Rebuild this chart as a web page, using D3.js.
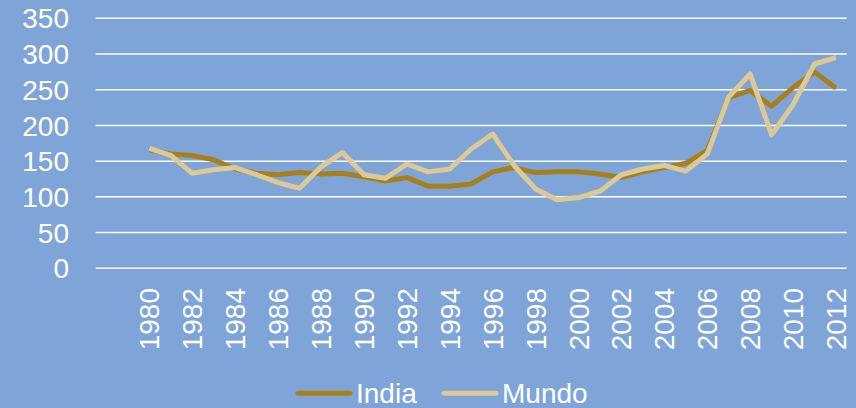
<!DOCTYPE html>
<html>
<head>
<meta charset="utf-8">
<script src="https://cdn.jsdelivr.net/npm/d3@7"></script>
<style>
html,body{margin:0;padding:0;background:#7FA5D8;}
svg{display:block;}
text{font-family:"Liberation Sans",Arial,sans-serif;fill:#fff;}
</style>
</head>
<body>
<svg id="chart" width="856" height="408"></svg>
<script>
const years = d3.range(1980, 2013);
const india = [166,160,158,152,139,133,131,134,132,133,128,122,127,115,115,118,135,141,134,135,135,132,127,135,141,147,165,239,249,227,253,275,252];
const mundo = [168,158,133,138,141,131,120,112,142,162,131,126,146,135,139,167,188,144,111,96,99,108,131,139,144,136,160,240,272,187,229,286,295];
const yTicks = [0,50,100,150,200,250,300,350];
const xTickLabels = d3.range(1980, 2013, 2);
const seriesNames = ["India","Mundo"];
const colors = {India:"#A88019", Mundo:"#DDC996"};

const svg = d3.select("#chart");
const x = d3.scaleLinear().domain([1977.5, 2012.5]).range([95.7, 846.7]);
const y = d3.scaleLinear().domain([0, 350]).range([268.3, 18.3]);

// gridlines
svg.append("g").selectAll("line").data(yTicks).join("line")
  .attr("x1", x(1977.5)).attr("x2", x(2012.5))
  .attr("y1", d => y(d)).attr("y2", d => y(d))
  .attr("stroke", "#fff").attr("stroke-width", 1.5);

// y labels
svg.append("g").selectAll("text").data(yTicks).join("text")
  .attr("x", 69).attr("y", d => y(d)).attr("dy", "0.36em")
  .attr("text-anchor", "end").attr("font-size", 28)
  .text(d => d);

// x labels
svg.append("g").selectAll("text").data(xTickLabels).join("text")
  .attr("transform", d => `translate(${x(d)},288) rotate(-90)`)
  .attr("dy", "0.36em").attr("text-anchor", "end").attr("font-size", 28)
  .text(d => d);

const line = d3.line().x((d,i) => x(years[i])).y(d => y(d));
const data = {India: india, Mundo: mundo};
seriesNames.forEach(name => {
  svg.append("path").datum(data[name]).attr("d", line)
    .attr("fill", "none").attr("stroke", colors[name]).attr("stroke-width", 5)
    .attr("stroke-linejoin", "round").attr("stroke-linecap", "butt");
});

// legend
const legendX = {India: 296, Mundo: 442};
seriesNames.forEach(name => {
  const lx = legendX[name];
  svg.append("line").attr("x1", lx + 2).attr("x2", lx + 54).attr("y1", 393.3).attr("y2", 393.3)
    .attr("stroke", colors[name]).attr("stroke-width", 5).attr("stroke-linecap", "round");
  svg.append("text").attr("x", lx + 60).attr("y", 403.3).attr("font-size", 28).text(name);
});
</script>
</body>
</html>
